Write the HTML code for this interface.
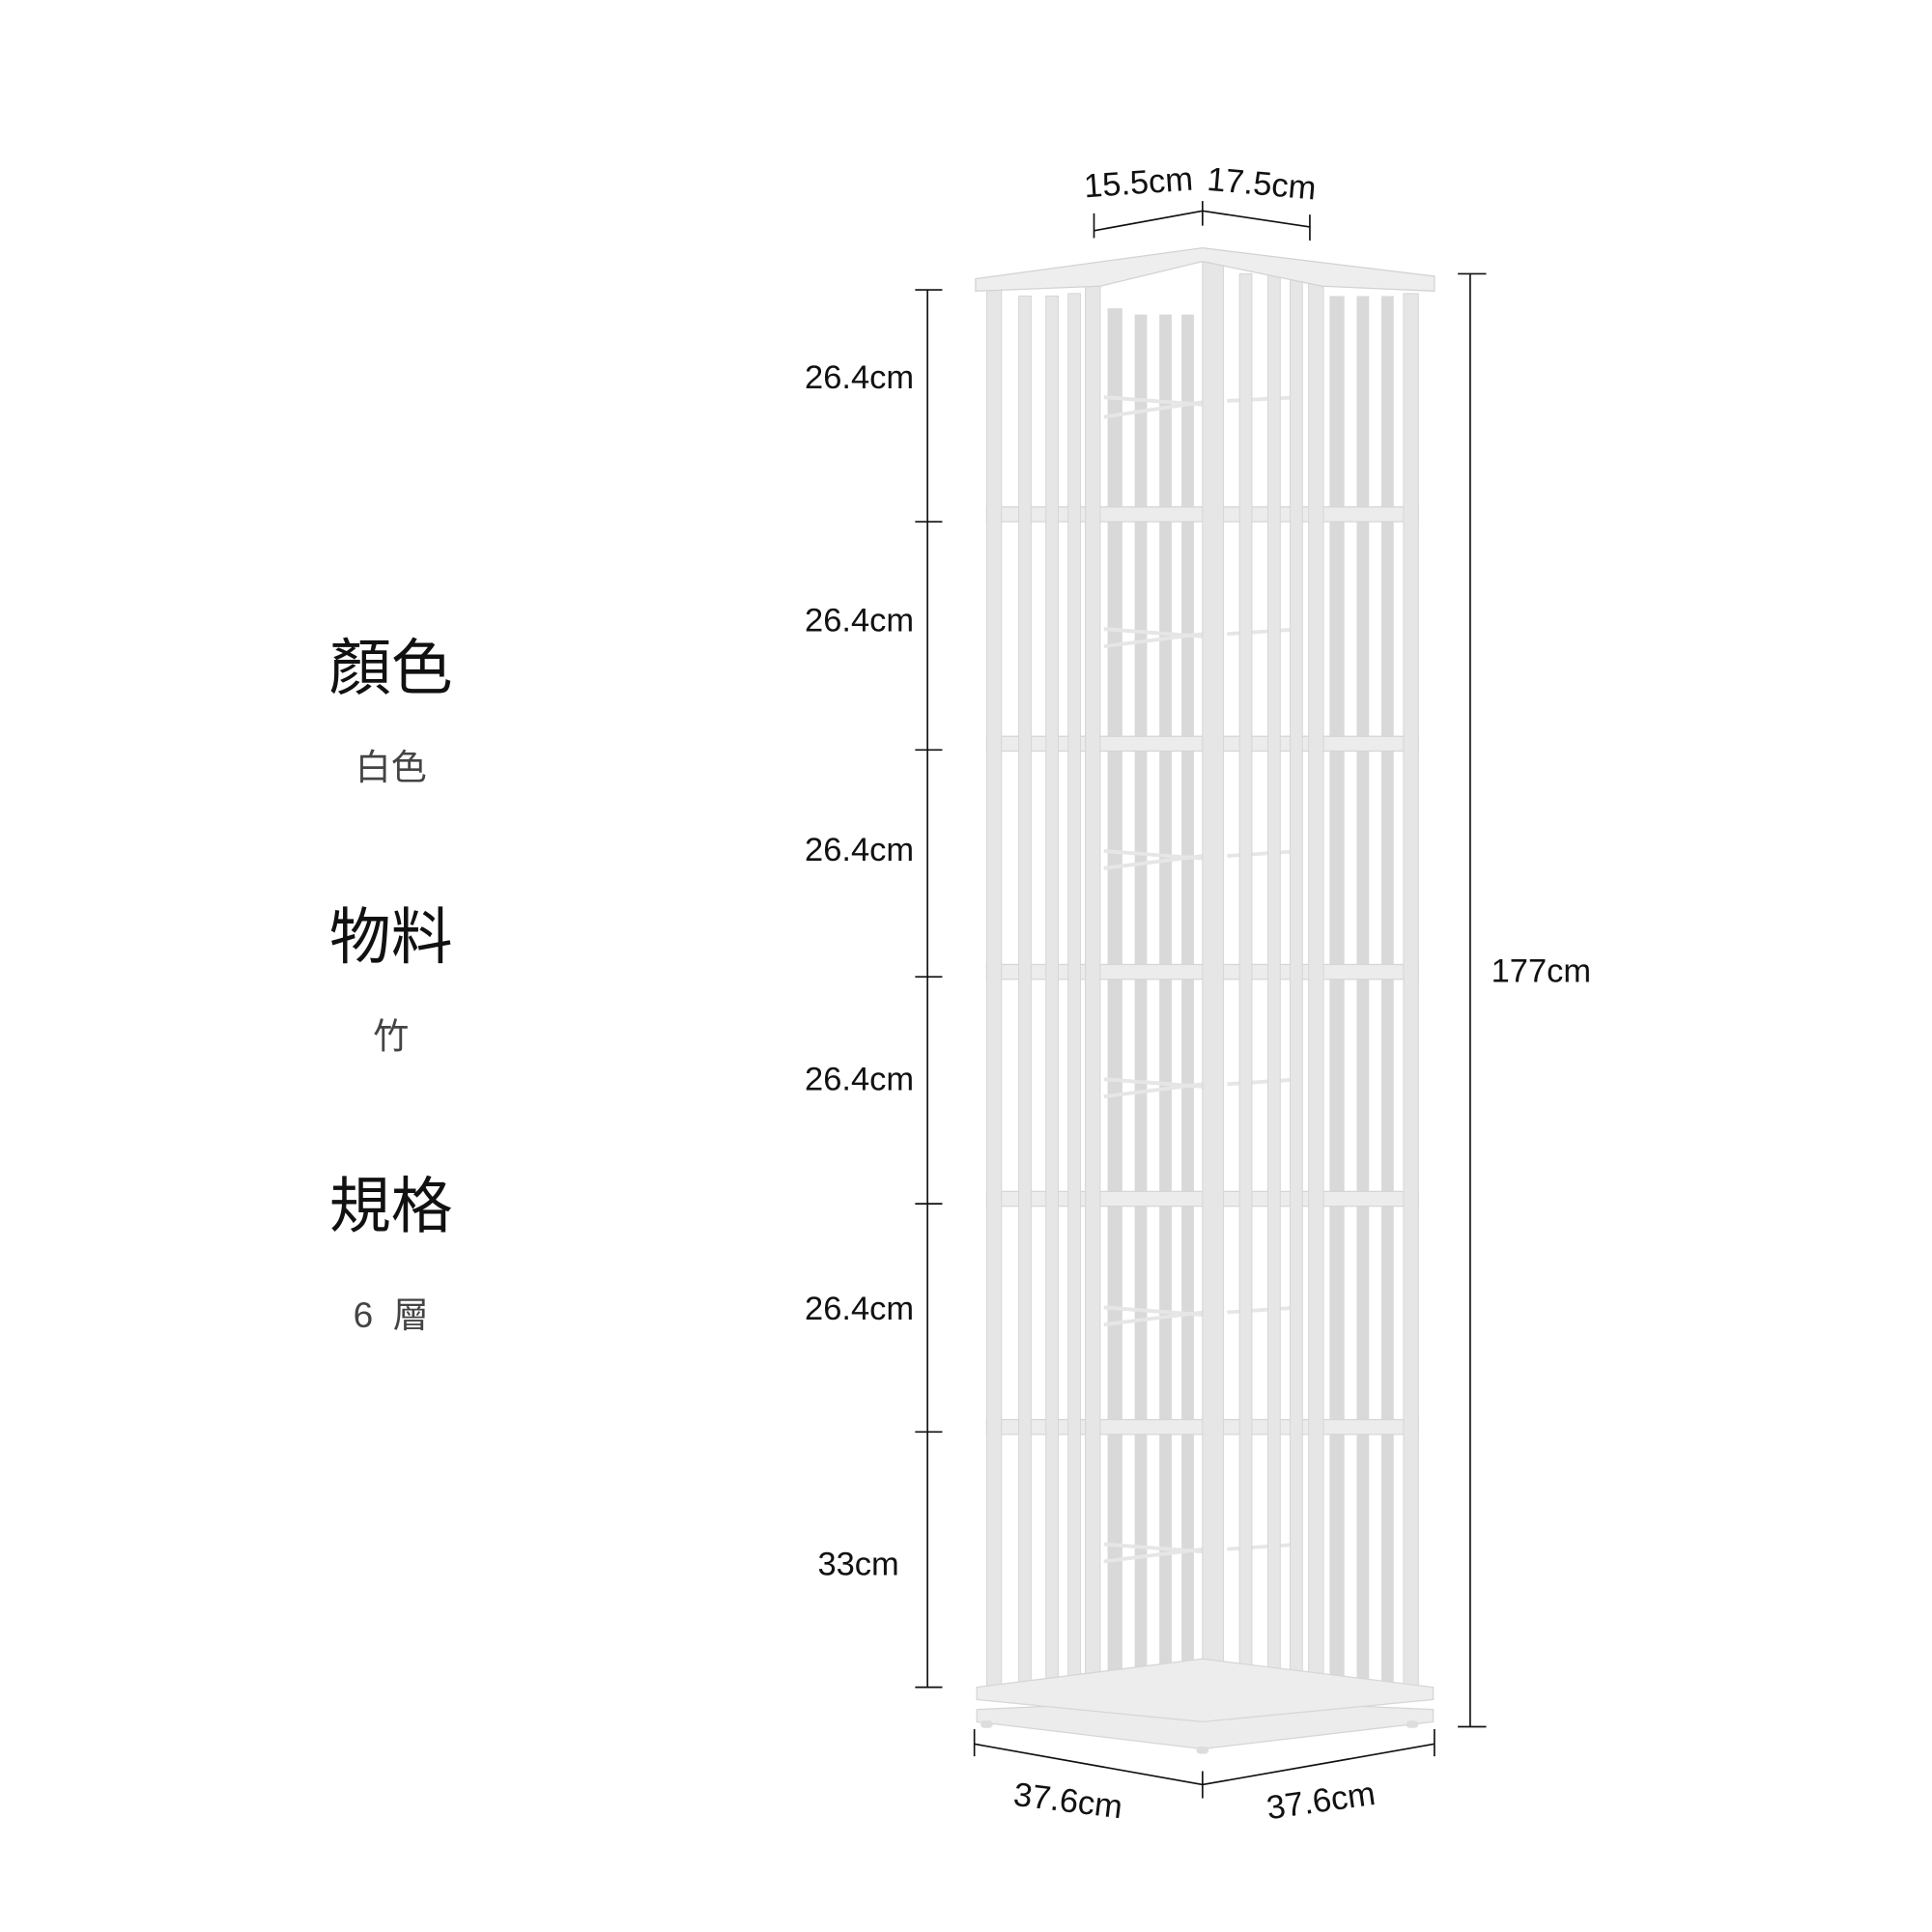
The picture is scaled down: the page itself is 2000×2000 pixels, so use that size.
<!DOCTYPE html>
<html><head><meta charset="utf-8"><style>
html,body{margin:0;padding:0;background:#fff;}
svg{display:block;}
.t{font-family:"Liberation Sans",sans-serif;fill:#111;}
.c{font-family:"Liberation Sans","Noto Sans CJK TC",sans-serif;}
</style></head><body>
<svg width="2000" height="2000" viewBox="0 0 1550 1550" xmlns="http://www.w3.org/2000/svg">
<rect width="1550" height="1550" fill="#fff"/>
<g transform="scale(0.9895)">
<!-- left labels -->
<g class="c" text-anchor="middle">
<text x="317" y="559" font-size="50" fill="#111">顏色</text>
<text x="317" y="632" font-size="29" fill="#444">白色</text>
<text x="317" y="777" font-size="50" fill="#111">物料</text>
<text x="317" y="850" font-size="29" fill="#444">竹</text>
<text x="317" y="995" font-size="50" fill="#111">規格</text>
<text x="317" y="1076" font-size="29" fill="#444" xml:space="preserve">6  層</text>
</g>
<!-- dimensions -->
<g stroke="#111" stroke-width="1.3">
<line x1="752" y1="235" x2="752" y2="1368"/>
<line x1="742" y1="235" x2="764" y2="235"/>
<line x1="742" y1="423" x2="764" y2="423"/>
<line x1="742" y1="608" x2="764" y2="608"/>
<line x1="742" y1="792" x2="764" y2="792"/>
<line x1="742" y1="976" x2="764" y2="976"/>
<line x1="742" y1="1161" x2="764" y2="1161"/>
<line x1="742" y1="1368" x2="764" y2="1368"/>
<line x1="1192" y1="222" x2="1192" y2="1400"/>
<line x1="1182" y1="222" x2="1205" y2="222"/>
<line x1="1182" y1="1400" x2="1205" y2="1400"/>
<line x1="887" y1="187" x2="975" y2="171"/><line x1="975" y1="171" x2="1062" y2="184"/>
<line x1="887" y1="173" x2="887" y2="193"/><line x1="975" y1="163" x2="975" y2="183"/><line x1="1062" y1="174" x2="1062" y2="195"/>
<line x1="790" y1="1414" x2="975" y2="1447"/><line x1="975" y1="1447" x2="1163" y2="1414"/>
<line x1="790" y1="1402" x2="790" y2="1424"/><line x1="975" y1="1436" x2="975" y2="1458"/><line x1="1163" y1="1402" x2="1163" y2="1424"/>
</g>
<g class="t" font-size="27" text-anchor="end">
<text x="741" y="315">26.4cm</text>
<text x="741" y="512">26.4cm</text>
<text x="741" y="698">26.4cm</text>
<text x="741" y="884">26.4cm</text>
<text x="741" y="1070">26.4cm</text>
<text x="729" y="1277">33cm</text>
</g>
<text class="t" font-size="27" x="1209" y="796">177cm</text>
<text class="t" font-size="27" x="923" y="157" text-anchor="middle" transform="rotate(-4 923 148)">15.5cm</text>
<text class="t" font-size="27" x="1023" y="158" text-anchor="middle" transform="rotate(5 1023 148)">17.5cm</text>
<text class="t" font-size="27" x="866" y="1469" text-anchor="middle" transform="rotate(7 866 1460)">37.6cm</text>
<text class="t" font-size="27" x="1071" y="1469" text-anchor="middle" transform="rotate(-8 1071 1460)">37.6cm</text>
<!-- shelf -->
<g>
<polygon points="792,1386 975,1378 1162,1386 1162,1396 975,1418 792,1396" fill="#ececec" stroke="#d6d6d6"/>
<rect x="795" y="1395" width="10" height="6" rx="3" fill="#ddd"/><rect x="1140" y="1395" width="10" height="6" rx="3" fill="#ddd"/><rect x="970" y="1416" width="10" height="6" rx="3" fill="#ddd"/>
<g fill="#d9d9d9">
<rect x="898" y="250" width="12" height="1120"/><rect x="920" y="255" width="10" height="1115"/><rect x="940" y="255" width="10" height="1115"/><rect x="958" y="255" width="10" height="1115"/>
<rect x="1078" y="240" width="12" height="1130"/><rect x="1100" y="240" width="10" height="1130"/><rect x="1120" y="240" width="10" height="1130"/>
</g>
<g fill="#ececec" stroke="#d6d6d6" stroke-width="1">
<rect x="800" y="411" width="350" height="12"/>
<rect x="800" y="597" width="350" height="12"/>
<rect x="800" y="782" width="350" height="12"/>
<rect x="800" y="966" width="350" height="12"/>
<rect x="800" y="1151" width="350" height="12"/>
</g>
<g stroke="#e6e6e6" stroke-width="3">
<line x1="895" y1="322" x2="975" y2="328"/><line x1="895" y1="338" x2="975" y2="326"/><line x1="995" y1="325" x2="1055" y2="322"/>
<line x1="895" y1="510" x2="975" y2="516"/><line x1="895" y1="524" x2="975" y2="514"/><line x1="995" y1="514" x2="1055" y2="510"/>
<line x1="895" y1="690" x2="975" y2="696"/><line x1="895" y1="704" x2="975" y2="694"/><line x1="995" y1="694" x2="1055" y2="690"/>
<line x1="895" y1="875" x2="975" y2="881"/><line x1="895" y1="889" x2="975" y2="879"/><line x1="995" y1="879" x2="1055" y2="875"/>
<line x1="895" y1="1060" x2="975" y2="1066"/><line x1="895" y1="1074" x2="975" y2="1064"/><line x1="995" y1="1064" x2="1055" y2="1060"/>
<line x1="895" y1="1252" x2="975" y2="1258"/><line x1="895" y1="1266" x2="975" y2="1256"/><line x1="995" y1="1256" x2="1055" y2="1252"/>
</g>
<g fill="#e6e6e6" stroke="#d6d6d6" stroke-width="0.8">
<rect x="800" y="235" width="12" height="1135"/>
<rect x="826" y="240" width="10" height="1130"/><rect x="848" y="240" width="10" height="1130"/>
<rect x="866" y="238" width="10" height="1132"/>
<rect x="880" y="232" width="12" height="1140"/>
<rect x="975" y="208" width="17" height="1180"/>
<rect x="1005" y="222" width="10" height="1160"/><rect x="1028" y="222" width="10" height="1160"/><rect x="1046" y="222" width="10" height="1160"/>
<rect x="1061" y="220" width="12" height="1160"/>
<rect x="1138" y="238" width="12" height="1132"/>
</g>
<polygon points="792,1368 975,1345 1162,1368 1162,1378 975,1396 792,1378" fill="#ededed" stroke="#d6d6d6"/>
<polygon points="791,226 975,201 1163,224 1163,236 1072,232 975,212 892,232 791,236" fill="#eeeeee" stroke="#d2d2d2"/>
</g>
</g>
</svg>
</body></html>
